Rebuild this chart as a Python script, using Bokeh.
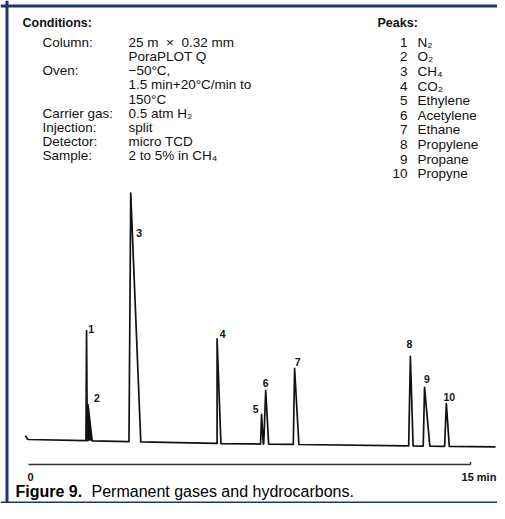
import numpy as np
from bokeh.plotting import figure
from bokeh.models import ColumnDataSource, Span
from bokeh.core.properties import value
from bokeh.embed import file_html
from bokeh.resources import INLINE

# ---------------- data ----------------
peak_numbers = ["1", "2", "3", "4", "5", "6", "7", "8", "9", "10"]
compound_names = ["N\u2082", "O\u2082", "CH\u2084", "CO\u2082", "Ethylene", "Acetylene",
                  "Ethane", "Propylene", "Propane", "Propyne"]
retention_min = [1.97, 2.02, 3.47, 6.40, 7.91, 8.05, 9.03, 12.96, 13.44, 14.18]
peak_height = [44.3, 14.6, 100.0, 42.1, 11.9, 21.6, 30.6, 36.0, 23.6, 17.2]
front_width_min = [0.02, 0.015, 0.06, 0.03, 0.034, 0.068, 0.044, 0.058, 0.044, 0.058]
tail_width_min = [0.025, 0.14, 0.34, 0.13, 0.058, 0.10, 0.146, 0.092, 0.18, 0.10]
baseline_time = [-0.10, -0.04, 0.0, 6.4, 15.85]
baseline_level = [1.6, 0.2, 0.0, -1.6, -3.0]
time_bar_min = [0, 15]
time_bar_labels = ["0", "15 min"]

conditions_title = "Conditions:"
conditions_keys = ["Column:", "", "Oven:", "", "", "Carrier gas:", "Injection:",
                   "Detector:", "Sample:"]
conditions_values = ["25 m\u00a0\u00a0\u00d7\u00a0\u00a00.32 mm", "PoraPLOT Q",
                     "\u221250\u00b0C,", "1.5 min+20\u00b0C/min to", "150\u00b0C",
                     "0.5 atm H\u2082", "split", "micro TCD", "2 to 5% in CH\u2084"]
peaks_title = "Peaks:"
caption_bold = "Figure 9."
caption_text = "Permanent gases and hydrocarbons."

# ---------------- layout / style ----------------
W, H = 497, 503
X0, X1 = -0.9502, 15.916
Y0, Y1 = -25.75, 176.66
INK = "#111111"
NAVY = "#1f3470"
BODY_FONT = value("Liberation Sans")


def dx(px):  # picture pixel -> data x
    return X0 + px / W * (X1 - X0)


def dy(py):  # picture pixel -> data y
    return Y1 - py / H * (Y1 - Y0)


p = figure(width=W, height=H, x_range=(X0, X1), y_range=(Y0, Y1),
           x_axis_type=None, y_axis_type=None, min_border=0,
           output_backend="svg", toolbar_location=None,
           background_fill_color="white", border_fill_color="white")
p.grid.visible = False
p.outline_line_color = None


def base(t):
    return float(np.interp(t, baseline_time, baseline_level))


# peak triangles (solid fill only where the reference peak prints solid)
peak_fill_alpha = [0, 1, 0, 0, 0, 0, 0, 0, 0, 0]
pxs, pys = [], []
for t, h, wf, wt in zip(retention_min, peak_height, front_width_min, tail_width_min):
    pxs.append([t - wf, t, t + wt])
    pys.append([base(t - wf), base(t) + h, base(t + wt)])
p.patches(pxs, pys, fill_color=INK, fill_alpha=peak_fill_alpha, line_color=None)

# chromatogram trace from read peak vertices
pts = [(t, l) for t, l in zip(baseline_time, baseline_level)]
for xs, ys in zip(pxs, pys):
    pts += list(zip(xs, ys))
pts.sort(key=lambda q: q[0])
trace = ColumnDataSource(dict(t=[q[0] for q in pts], s=[q[1] for q in pts]))
p.line("t", "s", source=trace, line_color=INK, line_width=1.7, line_join="round")

# peak number labels
label_dx = [4.5, 9, 8.5, 5.5, -6, 0, 3, -1, 2.5, 3]
label_dy = [-2, -6, 40, -5, -5, -7, -6, -12, -8, -7]
lab = ColumnDataSource(dict(x=retention_min,
                            y=[base(t) + h for t, h in zip(retention_min, peak_height)],
                            txt=peak_numbers, xo=label_dx, yo=label_dy))
p.text("x", "y", text="txt", source=lab, x_offset="xo", y_offset="yo",
       text_font=BODY_FONT, text_font_style="bold", text_font_size="10.5px",
       text_color=INK, text_align="center", text_baseline="middle")

# time scale bar
bar_y = -10.06
p.line(time_bar_min, [bar_y, bar_y], line_color="#333333", line_width=1.5)
p.segment(x0=[time_bar_min[1]], y0=[bar_y], x1=[time_bar_min[1]], y1=[bar_y + 1.0],
          line_color="#333333", line_width=1.5)
p.text([time_bar_min[0]], [bar_y], text=[time_bar_labels[0]], x_offset=2, y_offset=12,
       text_font=BODY_FONT, text_font_style="bold", text_font_size="11px",
       text_color=INK, text_align="center", text_baseline="middle")
p.text([time_bar_min[1]], [bar_y], text=[time_bar_labels[1]], x_offset=-9, y_offset=12,
       text_font=BODY_FONT, text_font_style="bold", text_font_size="11px",
       text_color=INK, text_align="left", text_baseline="middle")

# conditions block
p.text([dx(22)], [dy(22)], text=[conditions_title], text_font=BODY_FONT,
       text_font_style="bold", text_font_size="12.5px", text_color=INK,
       text_align="left", text_baseline="middle")
rows_y = [dy(41.7 + 14.2 * i) for i in range(len(conditions_values))]
p.text([dx(42)] * len(conditions_keys), rows_y, text=conditions_keys, text_font=BODY_FONT,
       text_font_size="13.5px", text_color=INK, text_align="left", text_baseline="middle")
p.text([dx(128)] * len(conditions_values), rows_y, text=conditions_values,
       text_font=BODY_FONT, text_font_size="13.5px", text_color=INK,
       text_align="left", text_baseline="middle")

# peaks legend block
p.text([dx(377)], [dy(22)], text=[peaks_title], text_font=BODY_FONT,
       text_font_style="bold", text_font_size="12.5px", text_color=INK,
       text_align="left", text_baseline="middle")
prow_y = [dy(41.7 + 14.6 * i) for i in range(len(peak_numbers))]
p.text([dx(407)] * len(peak_numbers), prow_y, text=peak_numbers, text_font=BODY_FONT,
       text_font_size="13.5px", text_color=INK, text_align="right", text_baseline="middle")
p.text([dx(417)] * len(compound_names), prow_y, text=compound_names, text_font=BODY_FONT,
       text_font_size="13.5px", text_color=INK, text_align="left", text_baseline="middle")

# caption
p.text([dx(15)], [dy(491)], text=[caption_bold], text_font=BODY_FONT,
       text_font_style="bold", text_font_size="16px", text_color="#000000",
       text_align="left", text_baseline="middle")
p.text([dx(91)], [dy(491)], text=[caption_text], text_font=BODY_FONT,
       text_font_size="16px", text_color="#000000",
       text_align="left", text_baseline="middle")

# navy frame (left, top, bottom)
p.add_layout(Span(location=dx(6.5), dimension="height", line_color=NAVY, line_width=3))
p.add_layout(Span(location=dy(5.5), dimension="width", line_color=NAVY, line_width=3))
p.add_layout(Span(location=dy(502), dimension="width", line_color=NAVY, line_width=2))

open("out.html", "w").write(file_html(p, INLINE))
